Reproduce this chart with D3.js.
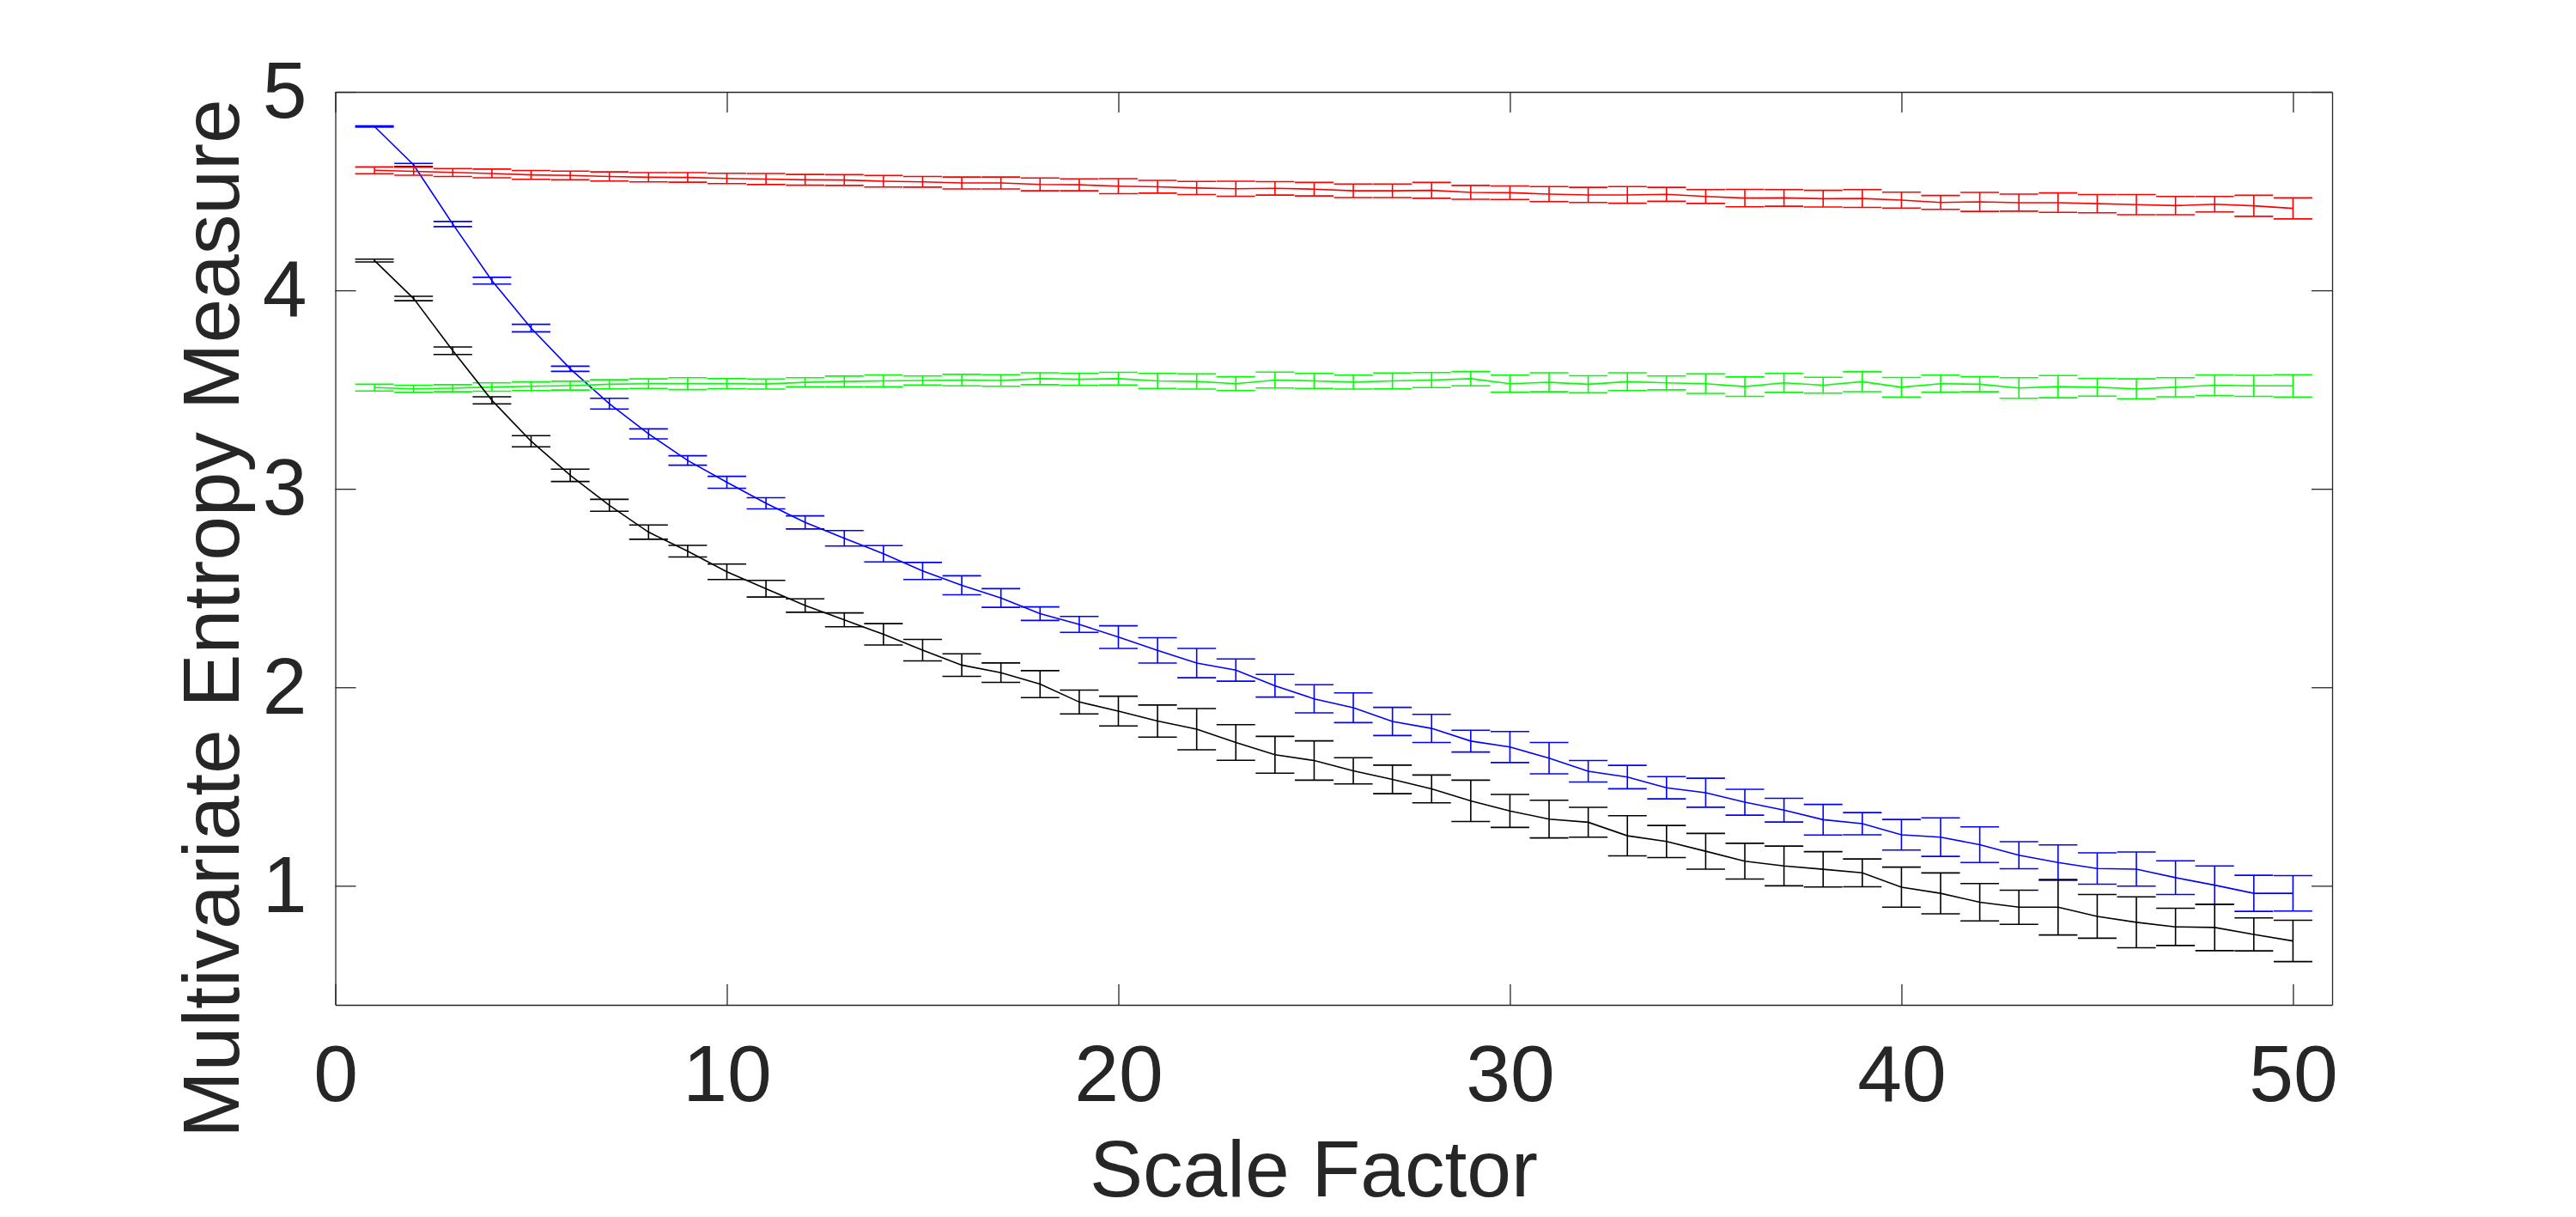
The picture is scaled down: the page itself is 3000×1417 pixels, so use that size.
<!DOCTYPE html>
<html>
<head>
<meta charset="utf-8">
<title>Multivariate Entropy Measure</title>
<script src="https://cdn.jsdelivr.net/npm/d3@7/dist/d3.min.js"></script>
<style>
body { margin: 0; background: #fff; }
text { font-family: "Liberation Sans", Arial, Helvetica, sans-serif; fill: #262626; }
.axis path, .axis line { stroke: #262626; stroke-width: 1.3px; }
.axis text { font-size: 93px; fill: #262626; }
</style>
</head>
<body>
<script>
// scale factors 1..50
var scales = d3.range(1, 51);

// series values
var redMean = [4.605,4.600,4.594,4.589,4.582,4.579,4.574,4.570,4.569,4.564,
  4.561,4.557,4.556,4.550,4.547,4.541,4.541,4.534,4.532,4.525,
  4.522,4.516,4.512,4.514,4.510,4.502,4.502,4.504,4.494,4.492,
  4.485,4.481,4.481,4.484,4.473,4.465,4.466,4.462,4.463,4.455,
  4.443,4.446,4.442,4.442,4.437,4.432,4.427,4.434,4.426,4.413];
var redErr = [0.017,0.020,0.020,0.022,0.022,0.022,0.023,0.023,0.024,0.026,
  0.028,0.027,0.027,0.029,0.027,0.030,0.030,0.032,0.030,0.038,
  0.032,0.033,0.038,0.034,0.034,0.034,0.034,0.040,0.035,0.034,
  0.038,0.038,0.042,0.035,0.035,0.044,0.042,0.042,0.045,0.040,
  0.035,0.048,0.043,0.049,0.046,0.051,0.046,0.039,0.053,0.053];

var greenMean = [3.510,3.504,3.507,3.513,3.517,3.520,3.527,3.530,3.530,3.530,
  3.528,3.537,3.541,3.544,3.546,3.548,3.546,3.555,3.552,3.555,
  3.544,3.541,3.530,3.548,3.544,3.538,3.544,3.548,3.555,3.530,
  3.537,3.527,3.540,3.534,3.530,3.515,3.534,3.522,3.540,3.512,
  3.530,3.527,3.508,3.515,3.512,3.504,3.512,3.522,3.519,3.519];
var greenErr = [0.017,0.018,0.018,0.021,0.022,0.022,0.023,0.024,0.030,0.025,
  0.025,0.023,0.027,0.030,0.023,0.029,0.029,0.030,0.030,0.032,
  0.038,0.038,0.035,0.040,0.038,0.035,0.040,0.038,0.036,0.043,
  0.048,0.043,0.045,0.035,0.049,0.049,0.048,0.040,0.050,0.049,
  0.043,0.038,0.052,0.056,0.045,0.050,0.048,0.052,0.053,0.056];

var blueMean = [4.826,4.632,4.334,4.049,3.810,3.605,3.429,3.277,3.143,3.033,
  2.927,2.831,2.751,2.673,2.586,2.514,2.450,2.371,2.317,2.253,
  2.186,2.122,2.087,2.008,1.942,1.897,1.828,1.793,1.729,1.699,
  1.643,1.577,1.548,1.494,1.469,1.421,1.381,1.333,1.313,1.257,
  1.245,1.207,1.154,1.117,1.087,1.084,1.041,1.003,0.962,0.962];
var blueErr = [0.003,0.008,0.013,0.017,0.019,0.013,0.027,0.025,0.024,0.030,
  0.028,0.033,0.039,0.041,0.043,0.048,0.047,0.034,0.040,0.057,
  0.064,0.074,0.056,0.057,0.071,0.075,0.071,0.071,0.055,0.078,
  0.079,0.054,0.059,0.056,0.073,0.065,0.060,0.077,0.056,0.077,
  0.097,0.090,0.068,0.089,0.079,0.086,0.085,0.097,0.091,0.089];

var blackMean = [4.150,3.959,3.696,3.446,3.240,3.068,2.917,2.782,2.686,2.582,
  2.497,2.412,2.340,2.267,2.187,2.112,2.074,2.016,1.926,1.880,
  1.830,1.789,1.722,1.660,1.631,1.579,1.536,1.488,1.428,1.377,
  1.336,1.320,1.252,1.223,1.174,1.124,1.100,1.083,1.065,0.993,
  0.962,0.917,0.892,0.892,0.846,0.816,0.793,0.790,0.755,0.722];
var blackErr = [0.007,0.011,0.019,0.018,0.028,0.031,0.030,0.036,0.029,0.039,
  0.042,0.034,0.035,0.054,0.054,0.057,0.049,0.068,0.060,0.075,
  0.081,0.104,0.090,0.093,0.099,0.066,0.072,0.070,0.104,0.083,
  0.095,0.075,0.101,0.081,0.090,0.090,0.100,0.089,0.070,0.101,
  0.103,0.094,0.086,0.140,0.110,0.128,0.094,0.117,0.083,0.104];

var xTicks = [0, 10, 20, 30, 40, 50];
var yTicks = [1, 2, 3, 4, 5];

var series = [
  {name: "blue", color: "#0000ff", mean: blueMean, err: blueErr},
  {name: "red", color: "#ff0000", mean: redMean, err: redErr},
  {name: "green", color: "#00ff00", mean: greenMean, err: greenErr},
  {name: "black", color: "#000000", mean: blackMean, err: blackErr}
];

var width = 3000,
    height = 1417;
var margin = {top: 107, right: 284, bottom: 247, left: 390.5};
var plotW = width - margin.left - margin.right,
    plotH = height - margin.top - margin.bottom;

var x = d3.scaleLinear().domain([0, 51]).range([0, plotW]);
var y = d3.scaleLinear().domain([0.4, 5]).range([plotH, 0]);
var capHalf = 22.5;

var svg = d3.select("body").append("svg")
  .attr("width", width)
  .attr("height", height);

var g = svg.append("g")
  .attr("transform", "translate(" + margin.left + "," + margin.top + ")");

// series: lines with error bars
series.forEach(function(s) {
  var pts = scales.map(function(k, i) {
    return {x: k, y: s.mean[i], e: s.err[i]};
  });
  var sg = g.append("g").attr("class", "series " + s.name)
    .attr("stroke", s.color)
    .attr("fill", "none")
    .attr("stroke-width", 1.6);

  sg.append("path")
    .datum(pts)
    .attr("d", d3.line().x(function(d) { return x(d.x); }).y(function(d) { return y(d.y); }));

  var bars = sg.selectAll(".bar").data(pts).enter().append("g").attr("class", "bar");
  bars.append("line")
    .attr("x1", function(d) { return x(d.x); })
    .attr("x2", function(d) { return x(d.x); })
    .attr("y1", function(d) { return y(d.y - d.e); })
    .attr("y2", function(d) { return y(d.y + d.e); });
  bars.append("line")
    .attr("x1", function(d) { return x(d.x) - capHalf; })
    .attr("x2", function(d) { return x(d.x) + capHalf; })
    .attr("y1", function(d) { return y(d.y + d.e); })
    .attr("y2", function(d) { return y(d.y + d.e); });
  bars.append("line")
    .attr("x1", function(d) { return x(d.x) - capHalf; })
    .attr("x2", function(d) { return x(d.x) + capHalf; })
    .attr("y1", function(d) { return y(d.y - d.e); })
    .attr("y2", function(d) { return y(d.y - d.e); });
});

// axes (ticks point inward, box on all four sides)
var fmt = d3.format("d");

g.append("g").attr("class", "axis")
  .attr("transform", "translate(0," + plotH + ")")
  .call(d3.axisBottom(x).tickValues(xTicks).tickFormat(fmt)
    .tickSize(-24).tickSizeOuter(0).tickPadding(46));

g.append("g").attr("class", "axis")
  .call(d3.axisLeft(y).tickValues(yTicks).tickFormat(fmt)
    .tickSize(-24).tickSizeOuter(0).tickPadding(33));

g.append("g").attr("class", "axis")
  .call(d3.axisTop(x).tickValues(xTicks).tickSize(-24).tickSizeOuter(0).tickFormat(""));

g.append("g").attr("class", "axis")
  .attr("transform", "translate(" + plotW + ",0)")
  .call(d3.axisRight(y).tickValues(yTicks).tickSize(-24).tickSizeOuter(0).tickFormat(""));

g.selectAll(".axis .domain").attr("stroke", "#262626");

// axis labels
svg.append("text")
  .attr("x", 1530)
  .attr("y", 1393)
  .attr("text-anchor", "middle")
  .style("font-size", "93px")
  .text("Scale Factor");

svg.append("text")
  .attr("transform", "translate(278,720) rotate(-90)")
  .attr("text-anchor", "middle")
  .style("font-size", "93px")
  .text("Multivariate Entropy Measure");
</script>
</body>
</html>
